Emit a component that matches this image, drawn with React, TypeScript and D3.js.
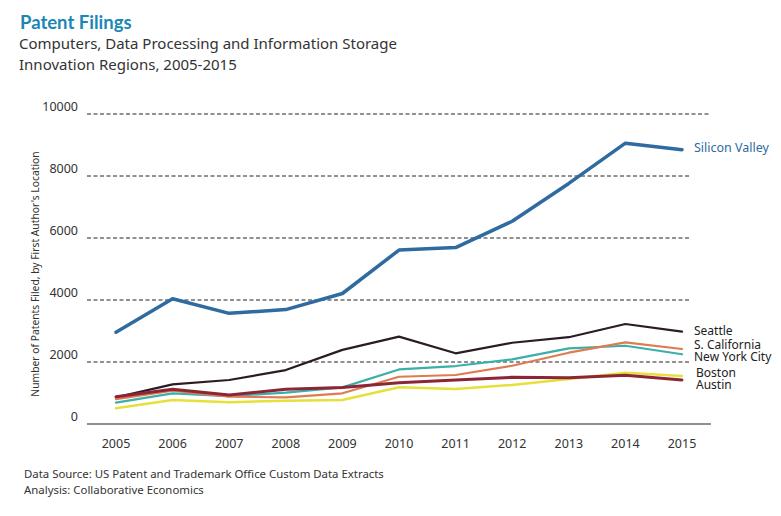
import React from "react";
import * as d3 from "d3";

const years = [2005, 2006, 2007, 2008, 2009, 2010, 2011, 2012, 2013, 2014, 2015];
const yTicks = [0, 2000, 4000, 6000, 8000, 10000];

const siliconValley = [2960, 4040, 3570, 3690, 4210, 5610, 5690, 6540, 7760, 9060, 8850];
const seattle = [860, 1280, 1420, 1740, 2390, 2820, 2280, 2620, 2800, 3225, 2980];
const sCalifornia = [800, 1075, 880, 860, 990, 1525, 1580, 1880, 2300, 2635, 2420];
const newYorkCity = [690, 990, 900, 1010, 1180, 1760, 1870, 2085, 2440, 2525, 2250];
const austin = [880, 1120, 935, 1120, 1180, 1330, 1420, 1505, 1495, 1570, 1420];
const boston = [505, 775, 700, 750, 775, 1185, 1130, 1260, 1450, 1655, 1550];

const seriesNames = ["Silicon Valley", "Seattle", "S. California", "New York City", "Boston", "Austin"];

const FONT = "'Noto Sans', 'Open Sans', sans-serif";

export default function App() {
  const x = d3.scaleLinear().domain([2005, 2015]).range([116, 682]);
  const y = d3.scaleLinear().domain([0, 10000]).range([424, 114]);
  const line = d3
    .line<number>()
    .x((_, i) => x(years[i]))
    .y((d) => y(d));

  const series = [
    { name: seriesNames[0], values: siliconValley, color: "#2f6aa0", width: 3.5, labelY: 149, labelColor: "#2f6aa0" },
    { name: seriesNames[1], values: seattle, color: "#2a1c24", width: 2.2, labelY: 332, labelColor: "#222" },
    { name: seriesNames[3], values: newYorkCity, color: "#3ab0a6", width: 2.2, labelY: 358, labelColor: "#222" },
    { name: seriesNames[2], values: sCalifornia, color: "#e07a52", width: 2.2, labelY: 345.5, labelColor: "#222" },
    { name: seriesNames[4], values: boston, color: "#e6e03c", width: 2.5, labelY: 374, labelColor: "#222" },
    { name: seriesNames[5], values: austin, color: "#8c2636", width: 3, labelY: 386, labelColor: "#222" },
  ];

  return (
    <svg
      width={781}
      height={516}
      style={{ position: "absolute", left: 0, top: 0, background: "#fff" }}
      fontFamily={FONT}
    >
      <rect width={781} height={516} fill="#fff" />
      <text x={20} y={29} fontSize={18.5} fontWeight="bold" fill="#1b87b5" fontFamily="'Lato', 'Noto Sans', sans-serif">
        Patent Filings
      </text>
      <text x={19} y={49} fontSize={15} fill="#333">
        Computers, Data Processing and Information Storage
      </text>
      <text x={19} y={70} fontSize={15} fill="#333">
        Innovation Regions, 2005-2015
      </text>

      {/* gridlines */}
      {yTicks.filter((t) => t > 0).map((t) => (
        <line
          key={t}
          x1={87}
          x2={t === 10000 ? 709 : 689}
          y1={y(t)}
          y2={y(t)}
          stroke="#222"
          strokeWidth={1}
          strokeDasharray="4,2.5"
        />
      ))}
      <line x1={87} x2={711} y1={y(0)} y2={y(0)} stroke="#222" strokeWidth={1.2} />

      {/* y tick labels */}
      {yTicks.map((t) => (
        <text key={t} x={78} y={y(t) - 6} fontSize={12.5} fill="#333" textAnchor="end" dominantBaseline="middle">
          {t}
        </text>
      ))}

      {/* x tick labels */}
      {years.map((yr) => (
        <text key={yr} x={x(yr)} y={445} fontSize={12.5} fill="#333" textAnchor="middle" dominantBaseline="middle">
          {yr}
        </text>
      ))}

      <text
        transform="translate(36,274) rotate(-90)"
        fontSize={10.3}
        fill="#333"
        textAnchor="middle"
        dominantBaseline="middle"
      >
        Number of Patents Filed, by First Author's Location
      </text>

      {series.map((s) => (
        <path
          key={s.name}
          d={line(s.values) || ""}
          fill="none"
          stroke={s.color}
          strokeWidth={s.width}
          strokeLinejoin="round"
          strokeLinecap="round"
        />
      ))}

      {series.map((s) => (
        <text
          key={s.name + "-label"}
          x={s.name === "Boston" || s.name === "Austin" ? 696 : 694}
          y={s.labelY}
          fontSize={s.name === "Silicon Valley" ? 12.5 : 12}
          fill={s.labelColor}
          dominantBaseline="middle"
        >
          {s.name}
        </text>
      ))}

      <text x={24} y={478} fontSize={11.4} fill="#333">
        Data Source: US Patent and Trademark Office Custom Data Extracts
      </text>
      <text x={24} y={494} fontSize={11.4} fill="#333">
        Analysis: Collaborative Economics
      </text>
    </svg>
  );
}
